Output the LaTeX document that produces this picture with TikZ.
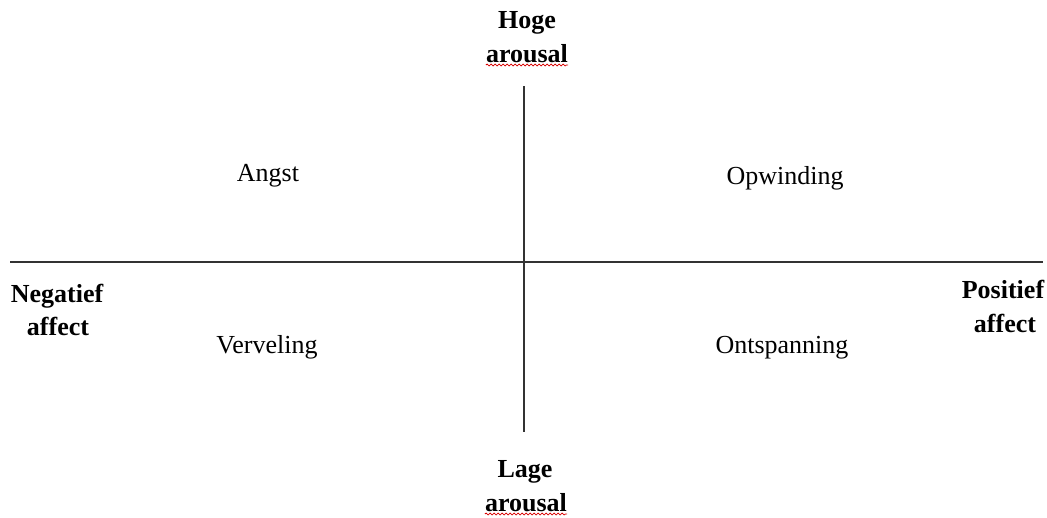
\documentclass[tikz,border=0pt]{standalone}
\usepackage{fontspec}
\setmainfont{Liberation Serif}
\usetikzlibrary{decorations.pathmorphing}
\begin{document}
\begin{tikzpicture}[x=1pt,y=-1pt,
  lbl/.style={inner sep=0pt, anchor=base, font=\fontsize{26}{32}\selectfont},
  axlbl/.style={lbl, font=\fontsize{26}{32}\selectfont\bfseries},
  axis/.style={draw=black!80, line width=1.8pt},
  spell/.style={draw=red!85!black, line width=0.8pt, decorate, decoration={snake, amplitude=0.9pt, segment length=4pt}}]
\useasboundingbox[fill=white] (0,0) rectangle (1047,517);
% axes
\coordinate (top) at (524,86);
\coordinate (bot) at (524,432);
\coordinate (left) at (10,262);
\coordinate (right) at (1043,262);
\draw[axis] (top) -- (bot);
\draw[axis] (left) -- (right);
% axis labels
\node[axlbl] (hoge1) at (527,28) {Hoge};
\node[axlbl] (hoge2) at (527,62) {arousal};
\node[axlbl] (lage1) at (525,477) {Lage};
\node[axlbl] (lage2) at (526,511) {arousal};
\node[axlbl] (neg1) at (57,302) {Negatief};
\node[axlbl] (neg2) at (58,335) {affect};
\node[axlbl] (pos1) at (1003,298) {Positief};
\node[axlbl] (pos2) at (1005,332) {affect};
\draw[spell] ([yshift=-3pt]hoge2.base west) -- ([yshift=-3pt]hoge2.base east);
\draw[spell] ([yshift=-3pt]lage2.base west) -- ([yshift=-3pt]lage2.base east);
% quadrant labels
\node[lbl] (angst) at (268,181) {Angst};
\node[lbl] (opw) at (785,184) {Opwinding};
\node[lbl] (verv) at (267,353) {Verveling};
\node[lbl] (onts) at (782,353) {Ontspanning};
\end{tikzpicture}
\end{document}
